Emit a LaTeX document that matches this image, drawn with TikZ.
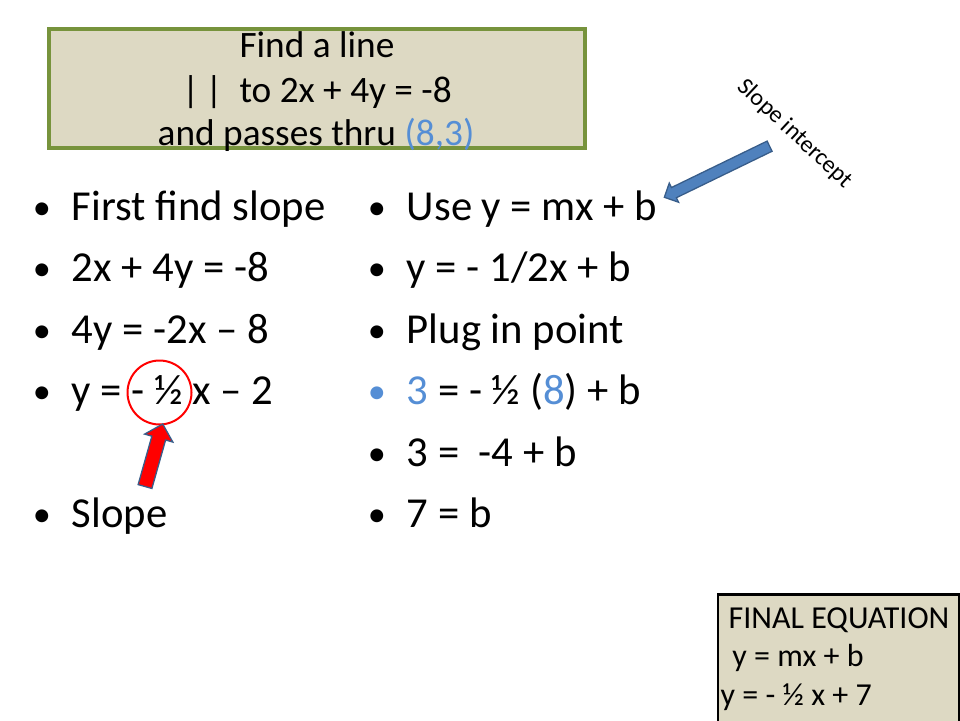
\documentclass[tikz,border=0pt]{standalone}
\usepackage{fontspec}
\setmainfont{Carlito}
\usetikzlibrary{shapes, shapes.arrows, positioning}
\definecolor{boxtan}{HTML}{DDD9C3}
\definecolor{boxgreen}{HTML}{77933C}
\definecolor{ptblue}{HTML}{558ED5}
\definecolor{arrowblue}{HTML}{4F81BD}
\definecolor{arrowedge}{HTML}{385D8A}
\newcommand{\bul}[1][black]{\llap{\makebox[60pt]{\color{#1}\raisebox{1pt}{\scalebox{0.85}{\textbullet}}}}}
\tikzset{
    bigline/.style={anchor=base west, inner sep=0pt, font=\fontsize{42.7}{51}\selectfont},
    taskline/.style={anchor=base, inner sep=0pt, font=\fontsize{37.3}{45}\selectfont},
    finalline/.style={anchor=base west, inner sep=0pt, font=\fontsize{32}{38}\selectfont},
    taskbox/.style={draw=boxgreen, line width=4pt, fill=boxtan, minimum width=536pt, minimum height=119pt, inner sep=0pt},
    finalbox/.style={draw=black, line width=2.7pt, fill=boxtan, minimum width=241pt, minimum height=130pt, inner sep=0pt, anchor=north west},
    ring/.style={circle, draw=red, line width=2pt, minimum size=64pt, inner sep=0pt},
    blockarrow/.style args={#1 #2}{single arrow, draw=arrowedge, line width=1.3pt, inner xsep=0pt, inner ysep=#1, single arrow head extend=#2, single arrow tip angle=90}
}
\begin{document}
\begin{tikzpicture}[x=1pt, y=-1pt]
    \useasboundingbox (0,0) rectangle (960,720);
    % top box
    \node[taskbox] (task) at (316.5,88.5) {};
    \node[taskline] (t1) at (317,57) {Find a line};
    \node[taskline] (t2) at (317,102) {|\,|\ \ to 2x + 4y = -8};
    \node[taskline] (t3) at (316,145) {and passes thru {\color{ptblue}(8,3)}};
    % left column
    \node[bigline] (l1) at (71.7,220) {\bul First find slope};
    \node[bigline] (l2) at (71.7,281.5) {\bul 2x + 4y = -8};
    \node[bigline] (l3) at (71.7,343) {\bul 4y = -2x -- 8};
    \node[bigline] (l4) at (71.7,404.5) {\bul y = - ½ x -- 2};
    \node[bigline] (l5) at (71.7,527.5) {\bul Slope};
    % right column
    \node[bigline] (r1) at (406.7,220) {\bul Use y = mx + b};
    \node[bigline] (r2) at (406.7,281.5) {\bul y = - 1/2x + b};
    \node[bigline] (r3) at (406.7,343) {\bul Plug in point};
    \node[bigline] (r4) at (406.7,404.5) {\bul[ptblue]{\color{ptblue}3} = - ½ ({\color{ptblue}8}) + b};
    \node[bigline] (r5) at (406.7,466) {\bul 3 =\ \ -4 + b};
    \node[bigline] (r6) at (406.7,527.5) {\bul 7 = b};
    % slope intercept note
    \node[inner sep=0pt, font=\fontsize{24}{29}\selectfont, rotate=-43] (note) at (795,134) {Slope intercept};
    \node[blockarrow={5pt 5pt}, fill=arrowblue, minimum height=117pt, rotate=205.9] (barrow) at (719.5,170.5) {};
    % slope marker
    \node[ring] (ring) at (159.5,392.5) {};
    \node[blockarrow={6.5pt 7.5pt}, fill=red, minimum height=65pt, rotate=74.2] (rarrow) at (152.9,458.7) {};
    % final box
    \node[finalbox] (final) at (716.5,593.3) {};
    \node[finalline] (f1) at (728.5,628) {FINAL EQUATION};
    \node[finalline] (f2) at (725,666.7) {\ y = mx + b};
    \node[finalline] (f3) at (720.5,705) {y = - ½ x + 7};
\end{tikzpicture}
\end{document}
